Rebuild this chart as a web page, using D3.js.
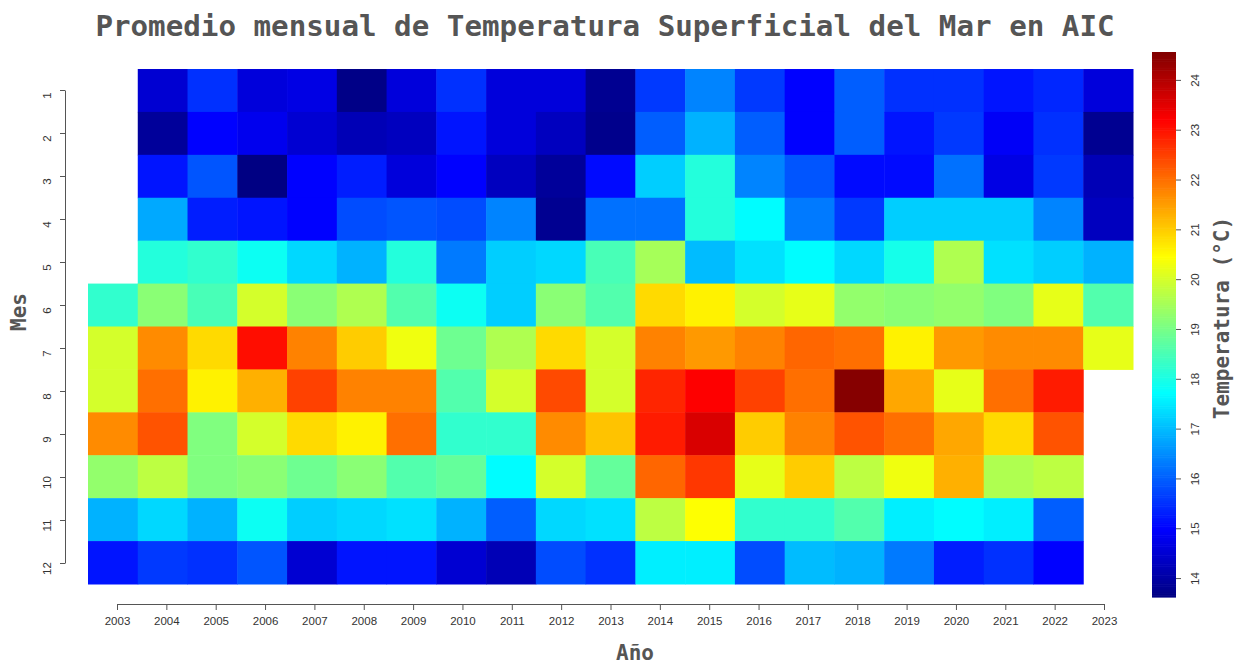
<!DOCTYPE html>
<html>
<head>
<meta charset="utf-8">
<script src="https://cdn.jsdelivr.net/npm/d3@7"></script>
<style>
  body { margin: 0; background: #fff; }
  svg { display: block; }
</style>
</head>
<body>
<svg id="svg" width="1237" height="664"></svg>
<script>
// years and months
const years = d3.range(2003, 2024);
const months = d3.range(1, 13);

// monthly mean SST per year (2003..2023), null = no data
const ene = [null, 14.5, 15.5, 14.6, 14.7, 13.7, 14.6, 15.5, 14.6, 14.6, 13.8, 15.6, 16.4, 15.6, 15.0, 16.0, 15.5, 15.5, 15.2, 15.4, 14.6];
const feb = [null, 13.9, 15.0, 14.8, 14.5, 14.2, 14.3, 15.2, 14.6, 14.3, 13.75, 16.0, 16.9, 16.0, 15.0, 16.0, 15.2, 15.6, 14.9, 15.5, 13.8];
const mar = [null, 15.2, 15.9, 13.65, 15.0, 15.3, 14.6, 15.0, 14.3, 13.9, 15.1, 17.2, 18.1, 16.4, 15.9, 15.1, 15.1, 16.2, 14.7, 15.6, 14.2];
const abr = [null, 16.8, 15.3, 15.2, 15.0, 15.8, 15.9, 15.8, 16.4, 13.8, 16.2, 16.2, 18.1, 17.7, 16.3, 15.6, 17.2, 17.2, 17.2, 16.4, 14.3];
const may = [null, 18.1, 18.25, 17.85, 17.3, 16.9, 18.1, 16.3, 17.2, 17.3, 18.5, 19.5, 17.0, 17.4, 17.7, 17.3, 17.95, 19.6, 17.4, 17.2, 16.9];
const jun = [18.25, 19.2, 18.5, 20.0, 19.2, 19.6, 18.6, 17.85, 17.2, 19.2, 18.6, 20.85, 20.6, 20.0, 20.2, 19.3, 19.2, 19.3, 19.1, 20.2, 18.6];
const jul = [20.0, 21.7, 20.85, 23.05, 21.8, 21.0, 20.3, 18.9, 19.6, 20.85, 20.0, 21.8, 21.55, 21.8, 22.1, 22.0, 20.6, 21.55, 21.7, 21.7, 20.2];
const ago = [20.0, 22.0, 20.6, 21.3, 22.5, 21.8, 21.8, 18.6, 20.0, 22.4, 20.0, 22.8, 23.2, 22.5, 22.0, 24.5, 21.4, 20.2, 22.0, 22.9, null];
const sep = [21.7, 22.3, 19.1, 20.0, 20.85, 20.6, 22.0, 18.25, 18.25, 21.7, 21.1, 22.9, 23.6, 21.0, 21.8, 22.3, 22.0, 21.4, 20.85, 22.3, null];
const oct = [19.3, 19.75, 19.1, 19.2, 18.9, 19.2, 18.6, 18.8, 17.7, 20.0, 18.8, 22.1, 22.6, 20.2, 21.0, 19.75, 20.3, 21.3, 19.6, 19.75, null];
const nov = [16.9, 17.3, 16.9, 17.85, 17.2, 17.3, 17.4, 16.9, 16.0, 17.3, 17.4, 19.75, 20.45, 18.25, 18.25, 18.6, 17.55, 17.7, 17.55, 16.0, null];
const dic = [15.2, 15.6, 15.5, 15.9, 14.5, 15.2, 15.2, 14.5, 14.2, 15.8, 15.5, 17.55, 17.55, 15.8, 17.0, 16.9, 16.3, 15.3, 15.5, 15.0, null];

const colorTicks = d3.range(14, 25);
const tempRange = [13.62, 24.56];

const rows = [ene, feb, mar, abr, may, jun, jul, ago, sep, oct, nov, dic];
const cells = [];
rows.forEach((row, i) => {
  row.forEach((v, j) => {
    if (v != null) cells.push({ month: months[i], year: years[j], value: v });
  });
});

const svg = d3.select('#svg');

// jet palette
const jetStops = [0, 0.125, 0.375, 0.625, 0.875, 1];
const color = d3.scaleLinear()
  .domain(jetStops.map(t => tempRange[0] + t * (tempRange[1] - tempRange[0])))
  .range(['#000080', '#0000ff', '#00ffff', '#ffff00', '#ff0000', '#800000'])
  .clamp(true);

const x = d3.scaleBand().domain(years).range([88, 1133]);
const y = d3.scaleBand().domain(months).range([69, 584]);

svg.append('g')
  .selectAll('rect')
  .data(cells)
  .join('rect')
  .attr('x', d => x(d.year))
  .attr('y', d => y(d.month))
  .attr('width', x.bandwidth() + 0.5)
  .attr('height', y.bandwidth() + 0.5)
  .attr('fill', d => color(d.value));

// axes (drawn like base R: slightly off the cell centres)
const xAxisScale = d3.scalePoint().domain(years).range([117, 1104]);
const yAxisScale = d3.scalePoint().domain(months).range([90, 563]);

const xAxis = svg.append('g')
  .attr('transform', 'translate(0,604)')
  .call(d3.axisBottom(xAxisScale).tickSize(6).tickSizeOuter(0).tickPadding(7));
xAxis.selectAll('text')
  .attr('font-family', 'Liberation Sans, Arial, sans-serif')
  .attr('font-size', 11.5)
  .attr('fill', '#333');

const yAxis = svg.append('g')
  .attr('transform', 'translate(65,0)')
  .call(d3.axisLeft(yAxisScale).tickSize(5).tickSizeOuter(0).tickPadding(0));
yAxis.selectAll('text')
  .attr('font-family', 'Liberation Sans, Arial, sans-serif')
  .attr('font-size', 11.5)
  .attr('fill', '#333')
  .attr('text-anchor', 'middle')
  .attr('dy', 0)
  .attr('transform', 'translate(-14,0) rotate(-90)');

[xAxis, yAxis].forEach(a => {
  a.select('.domain').attr('stroke', '#555');
  a.selectAll('.tick line').attr('stroke', '#555');
});

// colour bar
const cb = d3.scaleLinear().domain(tempRange).range([597, 52]);
const steps = d3.range(0, 300).map(i => tempRange[0] + (i + 0.5) * (tempRange[1] - tempRange[0]) / 300);
const stepH = (cb.range()[0] - cb.range()[1]) / 300;
svg.append('g')
  .selectAll('rect')
  .data(steps)
  .join('rect')
  .attr('x', 1152)
  .attr('y', d => cb(d) - stepH / 2)
  .attr('width', 24)
  .attr('height', stepH + 0.6)
  .attr('fill', d => color(d));

const cbAxis = svg.append('g')
  .attr('transform', 'translate(1176,0)')
  .call(d3.axisRight(cb).tickValues(colorTicks).tickSize(5).tickPadding(0));
cbAxis.select('.domain').remove();
cbAxis.selectAll('.tick line').attr('stroke', '#555');
cbAxis.selectAll('text')
  .attr('font-family', 'Liberation Sans, Arial, sans-serif')
  .attr('font-size', 11.5)
  .attr('fill', '#333')
  .attr('text-anchor', 'middle')
  .attr('x', 0)
  .attr('dy', 0)
  .attr('transform', 'translate(23,0) rotate(-90)');

// titles
const labelFont = 'DejaVu Sans Mono, monospace';
svg.append('text')
  .attr('x', 605)
  .attr('y', 36)
  .attr('text-anchor', 'middle')
  .attr('font-family', labelFont)
  .attr('font-weight', 'bold')
  .attr('font-size', 29.2)
  .attr('fill', '#555')
  .text('Promedio mensual de Temperatura Superficial del Mar en AIC');

svg.append('text')
  .attr('x', 635)
  .attr('y', 660)
  .attr('text-anchor', 'middle')
  .attr('font-family', labelFont)
  .attr('font-weight', 'bold')
  .attr('font-size', 21)
  .attr('fill', '#555')
  .text('Año');

svg.append('text')
  .attr('transform', 'translate(26,312) rotate(-90)')
  .attr('text-anchor', 'middle')
  .attr('font-family', labelFont)
  .attr('font-weight', 'bold')
  .attr('font-size', 21)
  .attr('fill', '#555')
  .text('Mes');

svg.append('text')
  .attr('transform', 'translate(1229,318) rotate(-90)')
  .attr('text-anchor', 'middle')
  .attr('font-family', labelFont)
  .attr('font-weight', 'bold')
  .attr('font-size', 21)
  .attr('fill', '#555')
  .text('Temperatura (°C)');
</script>
</body>
</html>
